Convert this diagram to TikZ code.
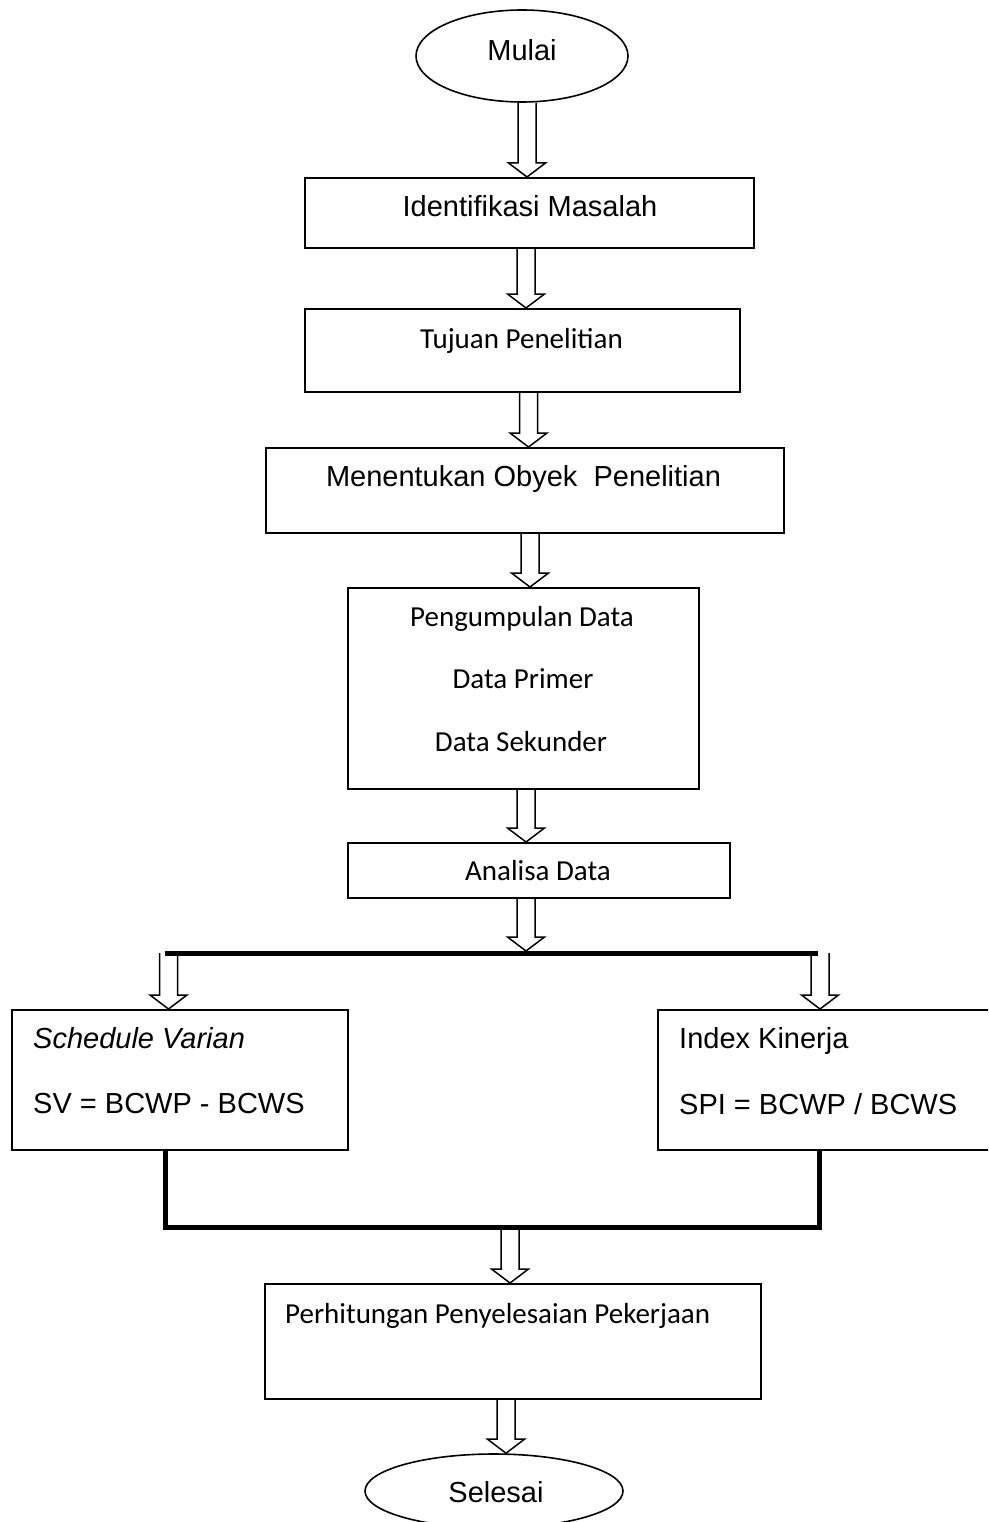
\documentclass[tikz,border=0pt]{standalone}
\usepackage{fontspec}
\setmainfont{Liberation Sans}
\newfontfamily\calibri{Carlito}
\usetikzlibrary{calc,shapes.geometric}
\newcommand{\blockarrow}[3]{%
  \draw[barrowline] let \p1=(#1), \p2=(#2) in
   (#3pt-9pt,\y1) -- (#3pt-9pt,\y2+14pt) -- (#3pt-18.5pt,\y2+14pt) -- (#3pt,\y2)
   -- (#3pt+18.5pt,\y2+14pt) -- (#3pt+9pt,\y2+14pt) -- (#3pt+9pt,\y1);}
\tikzset{
  box/.style={draw, line width=1.6pt, inner sep=0pt, anchor=north west},
  oval/.style={draw, ellipse, line width=1.6pt, inner sep=0pt},
  barrowline/.style={line width=1.5pt, line join=miter},
  heavy/.style={line width=5pt},
  txt/.style={inner sep=0pt, font=\fontsize{29}{34}\selectfont},
  ctxt/.style={inner sep=0pt, font=\calibri\fontsize{29}{34}\selectfont},
}
\begin{document}
\begin{tikzpicture}[x=1pt,y=-1pt]
\clip (0,0) rectangle (988,1522);
\fill[white] (0,0) rectangle (988,1522);
% shapes
\node[oval, minimum width=212, minimum height=92] (mulai) at (522,56) {};
\node[box, minimum width=449, minimum height=70] (idm) at (304,177) {};
\node[box, minimum width=435, minimum height=83] (tujuan) at (304,308) {};
\node[box, minimum width=518, minimum height=85] (ment) at (265,447) {};
\node[box, minimum width=351, minimum height=201] (peng) at (347,587) {};
\node[box, minimum width=382, minimum height=55] (anal) at (347,842) {};
\node[box, minimum width=336, minimum height=140] (sv) at (11,1009) {};
\node[box, minimum width=343, minimum height=140] (spi) at (657,1009) {};
\node[box, minimum width=496, minimum height=115] (perh) at (264,1283) {};
\node[oval, minimum width=258, minimum height=74] (selesai) at (494,1491) {};
% texts
\node[txt, anchor=base] (tmulai) at (522,61) {Mulai};
\node[txt, anchor=base] (tidm) at (530,217) {Identifikasi Masalah};
\node[ctxt, anchor=base] (ttujuan) at (521.5,348) {Tujuan Penelitian};
\node[txt, anchor=base] (tment) at (523.5,486) {Menentukan Obyek\ \ Penelitian};
\node[ctxt, anchor=base] (tpeng1) at (522,626) {Pengumpulan Data};
\node[ctxt, anchor=base] (tpeng2) at (523,688) {Data Primer};
\node[ctxt, anchor=base] (tpeng3) at (521,751) {Data Sekunder};
\node[ctxt, anchor=base] (tanal) at (538,880) {Analisa Data};
\node[txt, anchor=base west] (tsv1) at (33,1048) {\itshape Schedule Varian};
\node[txt, anchor=base west] (tsv2) at (33,1113) {SV = BCWP - BCWS};
\node[txt, anchor=base west] (tspi1) at (679,1048) {Index Kinerja};
\node[txt, anchor=base west] (tspi2) at (679,1114) {SPI = BCWP / BCWS};
\node[ctxt, anchor=base west] (tperh) at (285,1323) {Perhitungan Penyelesaian Pekerjaan};
\node[txt, anchor=base] (tsel) at (496,1502) {Selesai};
% junction lines
\coordinate (barL) at (165,953);
\coordinate (barR) at (818,953);
\coordinate (barM) at (526,951);
\coordinate (botL) at (165,1227);
\coordinate (botR) at (819,1227);
\coordinate (botM) at (510,1227);
\draw[heavy] (barL) -- (barR);
\draw[heavy, line join=miter] (sv.south -| botL) -- (botL) -- (botR) -- (spi.south -| botR);
% block arrows
\blockarrow{mulai.south}{idm.north}{527}
\blockarrow{idm.south}{tujuan.north}{526}
\blockarrow{tujuan.south}{ment.north}{528.5}
\blockarrow{ment.south}{peng.north}{530}
\blockarrow{peng.south}{anal.north}{526}
\blockarrow{anal.south}{barM}{526}
\blockarrow{barL}{sv.north}{168.5}
\blockarrow{barR}{spi.north}{820}
\blockarrow{botM}{perh.north}{510}
\blockarrow{perh.south}{selesai.north}{506}
\end{tikzpicture}
\end{document}
